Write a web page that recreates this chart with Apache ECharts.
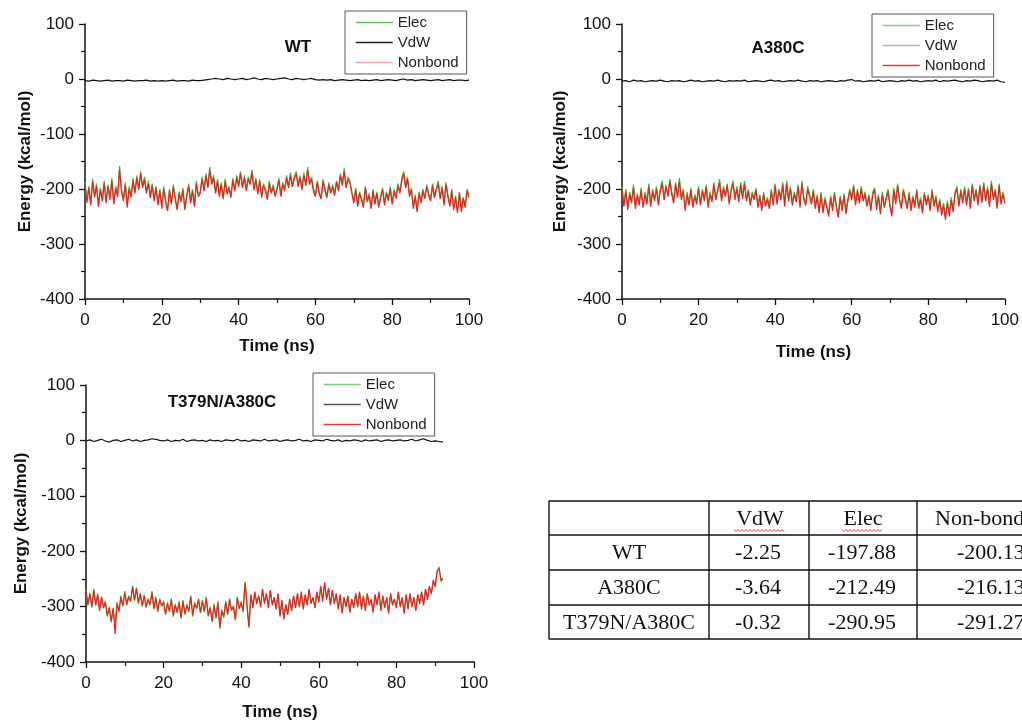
<!DOCTYPE html>
<html>
<head>
<meta charset="utf-8">
<script src="https://cdn.jsdelivr.net/npm/echarts@6/dist/echarts.min.js"></script>
<style>
html,body{margin:0;padding:0;background:#fff;}
#chart{width:1022px;height:722px;}
</style>
</head>
<body>
<div id="chart"></div>
<script>
// ---------------- DATA ----------------
// WT : sampled every 0.5 ns (Elec, Nonbond), every 1 ns (VdW)
const wtElec = [
-188,-220,-195,-225,-182,-212,-190,-228,-198,-218,
-185,-222,-192,-215,-180,-225,-195,-210,-158,-200,
-218,-188,-230,-195,-212,-180,-205,-175,-198,-168,
-195,-178,-205,-185,-212,-190,-218,-195,-225,-200,
-232,-195,-220,-238,-200,-225,-192,-215,-236,-205,
-220,-198,-235,-210,-190,-222,-200,-228,-185,-210,
-205,-178,-200,-172,-195,-160,-188,-175,-205,-182,
-210,-188,-215,-182,-205,-195,-212,-180,-200,-175,
-192,-168,-195,-175,-200,-178,-188,-165,-198,-180,
-205,-182,-212,-190,-200,-215,-185,-205,-192,-210,
-198,-180,-210,-188,-200,-175,-195,-170,-192,-178,
-168,-192,-175,-198,-170,-190,-160,-188,-178,-200,
-210,-185,-205,-215,-182,-200,-212,-188,-205,-192,
-208,-185,-200,-172,-190,-162,-195,-178,-185,-205,
-222,-198,-228,-205,-215,-230,-195,-220,-208,-232,
-200,-225,-205,-230,-212,-198,-225,-205,-218,-195,
-225,-200,-215,-190,-205,-180,-168,-195,-178,-210,
-198,-232,-210,-238,-205,-222,-200,-215,-192,-208,
-218,-190,-212,-198,-185,-215,-195,-225,-188,-210,
-228,-200,-235,-212,-240,-205,-238,-215,-230,-200,
-212];
const wtNonbond = [
-192,-225,-198,-230,-186,-215,-195,-232,-202,-222,
-190,-226,-196,-220,-185,-228,-199,-215,-165,-205,
-222,-192,-234,-200,-216,-185,-208,-180,-202,-172,
-198,-183,-208,-190,-216,-194,-222,-198,-230,-204,
-236,-200,-224,-240,-204,-228,-196,-220,-238,-208,
-224,-202,-238,-214,-195,-226,-204,-232,-190,-214,
-208,-182,-204,-176,-198,-166,-192,-180,-208,-186,
-214,-192,-218,-186,-210,-198,-216,-184,-204,-180,
-196,-172,-198,-180,-204,-182,-192,-170,-202,-184,
-210,-186,-216,-194,-204,-220,-190,-208,-196,-214,
-202,-184,-214,-192,-204,-180,-198,-175,-196,-182,
-172,-196,-180,-202,-175,-194,-166,-192,-182,-204,
-214,-188,-210,-218,-186,-204,-216,-192,-208,-196,
-212,-188,-204,-176,-194,-168,-198,-182,-190,-208,
-226,-202,-232,-208,-220,-234,-198,-224,-212,-236,
-204,-228,-208,-234,-216,-202,-230,-208,-222,-200,
-228,-204,-218,-194,-208,-185,-172,-198,-182,-214,
-202,-236,-214,-242,-208,-226,-204,-218,-196,-212,
-222,-194,-216,-202,-190,-218,-198,-230,-192,-214,
-232,-204,-238,-216,-244,-208,-242,-218,-234,-204,
-216];
const wtVdW = [
-3,-4,-2,-3,-4,-3,-2,-4,-3,-3,
-4,-2,-3,-4,-3,-3,-2,-4,-3,-4,
-3,-4,-3,-2,-4,-3,-3,-4,-2,-3,
-3,-2,-1,0,1,0,-1,1,0,-1,
0,1,-1,0,2,0,-1,1,0,-1,
0,1,2,0,-1,1,0,-1,0,1,
-1,-2,-1,-2,-1,-3,-2,-1,-2,-3,
-2,-1,-3,-2,-3,-2,-1,-3,-2,-1,
-2,-3,-1,0,-2,-1,-3,-2,-1,-2,
-3,-2,-1,-3,-2,-1,-3,-2,-2,-3,
-2];

// A380C
const a380Elec = [
-195,-228,-200,-232,-205,-222,-192,-230,-208,-225,
-198,-230,-205,-222,-190,-228,-200,-218,-195,-225,
-200,-185,-215,-192,-210,-182,-205,-220,-188,-212,
-180,-215,-200,-235,-205,-225,-198,-230,-210,-222,
-195,-225,-200,-218,-192,-228,-205,-220,-188,-215,
-200,-182,-218,-195,-210,-190,-222,-200,-185,-215,
-195,-220,-188,-212,-185,-218,-200,-225,-205,-215,
-198,-230,-210,-235,-205,-228,-215,-232,-200,-225,
-190,-222,-200,-215,-188,-228,-185,-218,-195,-225,
-205,-220,-192,-228,-185,-215,-225,-195,-210,-222,
-200,-232,-210,-238,-205,-240,-215,-230,-245,-212,
-235,-205,-230,-248,-212,-235,-208,-240,-218,-200,
-215,-192,-225,-200,-220,-195,-218,-205,-228,-210,
-235,-205,-198,-232,-210,-242,-205,-230,-215,-200,
-228,-245,-198,-222,-190,-218,-230,-200,-215,-232,
-205,-235,-212,-228,-200,-232,-215,-238,-205,-225,
-210,-235,-200,-228,-212,-238,-218,-242,-225,-250,
-222,-245,-215,-238,-205,-195,-228,-200,-220,-195,
-225,-198,-230,-190,-218,-200,-225,-192,-220,-188,
-218,-195,-228,-185,-215,-200,-232,-190,-222,-205,
-220];
const a380Nonbond = [
-200,-232,-205,-238,-210,-226,-198,-236,-212,-230,
-202,-234,-210,-228,-195,-232,-204,-222,-200,-230,
-205,-190,-220,-196,-214,-186,-210,-226,-192,-216,
-186,-220,-204,-240,-210,-230,-202,-234,-214,-228,
-200,-230,-204,-222,-196,-234,-210,-224,-192,-220,
-204,-188,-222,-200,-214,-194,-228,-204,-190,-220,
-200,-224,-192,-218,-190,-222,-204,-230,-210,-220,
-202,-234,-214,-240,-210,-232,-220,-236,-204,-230,
-194,-228,-204,-220,-192,-232,-190,-222,-200,-230,
-210,-224,-196,-234,-190,-220,-230,-200,-214,-228,
-204,-236,-214,-244,-210,-244,-220,-234,-250,-216,
-240,-210,-234,-252,-216,-240,-212,-246,-222,-204,
-220,-196,-230,-204,-226,-200,-222,-210,-232,-214,
-240,-210,-202,-238,-214,-246,-210,-234,-220,-204,
-232,-250,-202,-228,-194,-222,-236,-204,-220,-236,
-210,-240,-216,-234,-204,-236,-220,-244,-210,-230,
-214,-240,-204,-232,-216,-242,-222,-248,-230,-256,
-226,-250,-220,-242,-210,-200,-232,-204,-226,-200,
-230,-202,-236,-194,-222,-204,-230,-196,-226,-192,
-222,-200,-232,-190,-220,-204,-236,-194,-228,-210,
-226];
const a380VdW = [
-4,-3,-5,-2,-4,-3,-5,-4,-3,-4,
-2,-4,-5,-3,-4,-3,-5,-4,-2,-4,
-3,-5,-4,-3,-4,-2,-4,-5,-3,-4,
-3,-4,-2,-5,-4,-3,-4,-5,-3,-2,
-4,-3,-5,-4,-3,-4,-2,-4,-5,-3,
-4,-3,-5,-4,-3,-4,-5,-3,-4,-2,
-1,-4,-3,-5,-4,-3,-4,-2,-5,-4,
-3,-4,-5,-3,-4,-2,-4,-3,-5,-4,
-3,-4,-2,-5,-3,-4,-3,-2,-4,-5,
-3,-4,-2,-3,-5,-4,-3,-4,-2,-5,
-6];

// T379N/A380C (0 - 92 ns)
const dmElec = [
-270,-298,-275,-302,-268,-295,-280,-305,-285,-300,
-290,-318,-300,-325,-305,-330,-292,-310,-280,-300,
-272,-298,-280,-292,-262,-290,-265,-295,-275,-300,
-278,-302,-285,-298,-272,-305,-282,-310,-285,-300,
-290,-315,-292,-310,-285,-318,-295,-312,-290,-322,
-288,-315,-295,-310,-280,-318,-292,-305,-285,-312,
-288,-310,-282,-318,-300,-328,-295,-322,-290,-340,
-305,-320,-290,-315,-285,-308,-298,-325,-282,-305,
-290,-310,-255,-300,-335,-280,-300,-275,-292,-282,
-298,-270,-292,-278,-300,-272,-295,-285,-302,-278,
-315,-290,-320,-298,-312,-288,-305,-282,-300,-278,
-298,-275,-302,-280,-295,-270,-292,-285,-300,-275,
-290,-265,-288,-258,-285,-268,-295,-272,-292,-278,
-302,-280,-310,-285,-298,-282,-308,-288,-300,-278,
-298,-275,-302,-282,-305,-278,-295,-288,-308,-280,
-295,-275,-305,-282,-300,-285,-310,-278,-295,-288,
-300,-275,-298,-285,-310,-280,-302,-278,-298,-285,
-305,-280,-292,-275,-295,-270,-285,-265,-275,-255,
-262,-238,-228,-255,-248];
const dmNonbond = [
-273,-296,-278,-300,-271,-298,-277,-308,-282,-303,
-293,-316,-303,-328,-302,-350,-295,-308,-283,-298,
-275,-296,-283,-290,-265,-288,-268,-293,-278,-298,
-281,-300,-288,-296,-275,-303,-285,-308,-288,-298,
-293,-313,-295,-308,-288,-316,-298,-310,-293,-320,
-291,-313,-298,-308,-283,-316,-295,-303,-288,-310,
-291,-308,-285,-316,-303,-326,-298,-320,-293,-338,
-308,-318,-293,-313,-288,-306,-301,-323,-285,-303,
-293,-308,-258,-298,-338,-278,-303,-273,-295,-280,
-301,-268,-295,-276,-303,-270,-298,-283,-305,-276,
-318,-288,-323,-296,-315,-286,-308,-280,-303,-276,
-301,-273,-305,-278,-298,-268,-295,-283,-303,-273,
-293,-263,-291,-256,-288,-266,-298,-270,-295,-276,
-305,-278,-313,-283,-301,-280,-311,-286,-303,-276,
-301,-273,-305,-280,-308,-276,-298,-286,-311,-278,
-298,-273,-308,-280,-303,-283,-313,-276,-298,-286,
-303,-273,-301,-283,-313,-278,-305,-276,-301,-283,
-308,-278,-295,-273,-298,-268,-288,-263,-278,-252,
-265,-236,-231,-252,-250];
const dmVdW = [
-1,1,-2,0,2,-1,-3,0,1,-2,
0,2,-1,1,-2,0,1,3,2,0,
-1,1,-2,0,-1,2,-2,0,1,-1,
0,-2,1,-1,0,-2,1,0,-1,2,
-1,0,-2,1,0,-1,2,-1,0,1,
-2,0,1,-1,0,2,-1,0,-2,1,
0,-1,2,0,-1,1,-2,0,-1,1,
0,-2,1,-1,0,1,-2,0,1,-1,
0,1,-1,0,2,-1,1,3,0,-2,
-1,-2,-3];

// Axis ticks
const xTicks = [0, 20, 40, 60, 80, 100];
const yTicks = [-400, -300, -200, -100, 0, 100];

// Table
const tableHeader = ['', 'VdW', 'Elec', 'Non-bond'];
const tableRows = ['WT', 'A380C', 'T379N/A380C'];
const tableVdW = [-2.25, -3.64, -0.32];
const tableElec = [-197.88, -212.49, -290.95];
const tableNonbond = [-200.13, -216.13, -291.27];

const panelTitles = ['WT', 'A380C', 'T379N/A380C'];

// ---------------- CHART ----------------
const FONT = 'Liberation Sans, Arial, sans-serif';
const SERIF = 'Liberation Serif, Times New Roman, serif';
const C_ELEC = '#3fba3f', C_NB = '#ee2020', C_VDW = '#111111';

function pairs(values, step) {
  return values.map((v, i) => [i * step, v]);
}

const grids = [
  {left: 85, top: 24, width: 384, height: 275},
  {left: 622, top: 24, width: 385, height: 275},
  {left: 86, top: 385, width: 388, height: 278}
];
const xNameGaps = [39, 45, 42];
const yNameGaps = [51, 53, 56];

function xAxis(i) {
  return {
    gridIndex: i, type: 'value', min: xTicks[0], max: xTicks[xTicks.length - 1],
    interval: xTicks[1] - xTicks[0],
    name: 'Time (ns)', nameLocation: 'middle', nameGap: xNameGaps[i],
    nameTextStyle: {fontFamily: FONT, fontWeight: 'bold', fontSize: 17, color: '#111'},
    axisLine: {show: true, onZero: false, lineStyle: {color: '#111', width: 1.5}},
    axisTick: {show: true, length: 6, lineStyle: {color: '#111', width: 1.3}},
    minorTick: {show: true, splitNumber: 2, length: 4, lineStyle: {color: '#111', width: 1.2}},
    axisLabel: {fontFamily: FONT, fontSize: 17, color: '#111', margin: 13},
    splitLine: {show: false}
  };
}
function yAxis(i) {
  return {
    gridIndex: i, type: 'value', min: yTicks[0], max: yTicks[yTicks.length - 1],
    interval: yTicks[1] - yTicks[0],
    name: 'Energy (kcal/mol)', nameLocation: 'middle', nameGap: yNameGaps[i],
    nameTextStyle: {fontFamily: FONT, fontWeight: 'bold', fontSize: 17, color: '#111'},
    axisLine: {show: true, onZero: false, lineStyle: {color: '#111', width: 1.5}},
    axisTick: {show: true, length: 6, lineStyle: {color: '#111', width: 1.3}},
    minorTick: {show: true, splitNumber: 2, length: 4, lineStyle: {color: '#111', width: 1.2}},
    axisLabel: {fontFamily: FONT, fontSize: 17, color: '#111', margin: 11},
    splitLine: {show: false}
  };
}
function line(name, data, idx, color, z) {
  return {
    name: name, type: 'line', xAxisIndex: idx, yAxisIndex: idx, data: data,
    symbol: 'none', showSymbol: false, sampling: null, animation: false, z: z,
    lineStyle: {color: color, width: 1.2}, itemStyle: {color: color}
  };
}

const series = [
  line('Elec', pairs(wtElec, 0.5), 0, C_ELEC, 2),
  line('VdW', pairs(wtVdW, 1), 0, C_VDW, 3),
  line('Nonbond', pairs(wtNonbond, 0.5), 0, C_NB, 4),
  line('Elec', pairs(a380Elec, 0.5), 1, C_ELEC, 2),
  line('VdW', pairs(a380VdW, 1), 1, C_VDW, 3),
  line('Nonbond', pairs(a380Nonbond, 0.5), 1, C_NB, 4),
  line('Elec', pairs(dmElec, 0.5), 2, C_ELEC, 2),
  line('VdW', pairs(dmVdW, 1), 2, C_VDW, 3),
  line('Nonbond', pairs(dmNonbond, 0.5), 2, C_NB, 4)
];

const legendPos = [{left: 345, top: 11}, {left: 872, top: 14}, {left: 313, top: 373}];
const legendColors = [
  ['#5fbf5f', '#222222', '#f6a6ae'],
  ['#86cf86', '#b5b5b5', '#ea3a3a'],
  ['#7fcc7f', '#555555', '#ea3a3a']
];
const legendNames = ['Elec', 'VdW', 'Nonbond'];
const legends = legendPos.map((p, i) => ({
  left: p.left, top: p.top, orient: 'vertical',
  itemWidth: 37, itemHeight: 14, itemGap: 5,
  padding: [4, 8, 4, 10],
  borderColor: '#555', borderWidth: 1, backgroundColor: '#fff',
  selectedMode: false,
  textStyle: {fontFamily: FONT, fontSize: 15, color: '#222'},
  data: legendNames.map((n, k) => ({
    name: n,
    lineStyle: {color: legendColors[i][k], width: 1.5},
    itemStyle: {color: legendColors[i][k], opacity: 0}
  }))
}));

// Titles
const titlePos = [[298, 47], [778, 48], [222, 402]];
const graphics = panelTitles.map((t, i) => ({
  type: 'text', x: titlePos[i][0], y: titlePos[i][1], z: 10,
  style: {text: t, textAlign: 'center', textVerticalAlign: 'middle',
          fontFamily: FONT, fontWeight: 'bold', fontSize: 17, fill: '#111'}
}));

// Table (graphic)
const colX = [549, 709, 809, 917, 1040];
const rowY = [501, 535, 570, 605, 639];
const headerPos = [[629, 'center'], [760, 'center'], [863, 'center'], [935, 'left']];
const valuePos = [[629, 'center'], [758, 'center'], [862, 'center'], [957, 'left']];
const tLine = {stroke: '#111', lineWidth: 1.4};
rowY.forEach(y => graphics.push({type: 'line', shape: {x1: colX[0], y1: y, x2: colX[4], y2: y}, style: tLine}));
colX.forEach(x => graphics.push({type: 'line', shape: {x1: x, y1: rowY[0], x2: x, y2: rowY[4]}, style: tLine}));
tableHeader.forEach((h, c) => {
  if (!h) return;
  graphics.push({type: 'text', x: headerPos[c][0], y: (rowY[0] + rowY[1]) / 2 + 1,
    style: {text: h, textAlign: headerPos[c][1], textVerticalAlign: 'middle', fontFamily: SERIF, fontSize: 22, fill: '#111'}});
});
// spell-check squiggles under VdW and Elec headers
[[734, 785], [842, 883]].forEach(r => {
  const pts = [];
  for (let x = r[0], k = 0; x <= r[1]; x += 2, k++) pts.push([x, 530 + (k % 2 ? 1.5 : -0.5)]);
  graphics.push({type: 'polyline', shape: {points: pts}, style: {stroke: '#e03030', lineWidth: 1, fill: null}});
});
tableRows.forEach((r, i) => {
  const cy = (rowY[i + 1] + rowY[i + 2]) / 2 + 1;
  const cells = [r, tableVdW[i].toFixed(2), tableElec[i].toFixed(2), tableNonbond[i].toFixed(2)];
  cells.forEach((txt, c) => {
    graphics.push({type: 'text', x: valuePos[c][0], y: cy,
      style: {text: txt, textAlign: valuePos[c][1], textVerticalAlign: 'middle', fontFamily: SERIF, fontSize: 22, fill: '#111'}});
  });
});

const chart = echarts.init(document.getElementById('chart'), null, {renderer: 'canvas'});
chart.setOption({
  backgroundColor: '#ffffff',
  animation: false,
  grid: grids,
  xAxis: [0, 1, 2].map(xAxis),
  yAxis: [0, 1, 2].map(yAxis),
  legend: legends,
  series: series,
  graphic: graphics
});
</script>
</body>
</html>
